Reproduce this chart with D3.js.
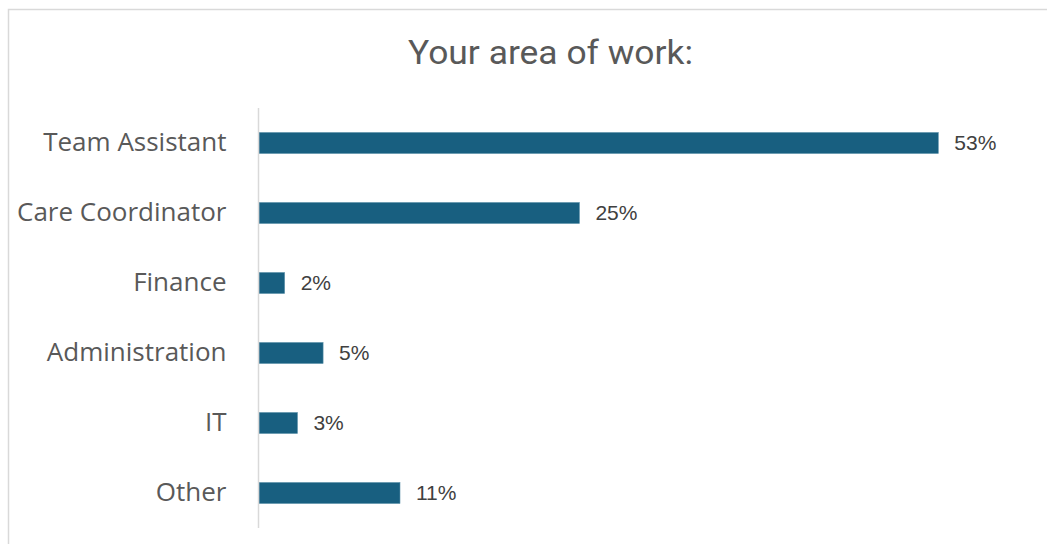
<!DOCTYPE html>
<html>
<head>
<meta charset="utf-8">
<script src="https://cdn.jsdelivr.net/npm/d3@7/dist/d3.min.js"></script>
<style>
  html, body { margin: 0; padding: 0; background: #fff; }
  svg { display: block; }
</style>
</head>
<body>
<svg id="chart" width="1047" height="544"></svg>
<script>
// Survey responses: area of work (percent of respondents)
const categories = ["Team Assistant", "Care Coordinator", "Finance", "Administration", "IT", "Other"];
const percents = [53, 25, 2, 5, 3, 11];
const chartTitle = "Your area of work:";

const svg = d3.select("#chart");
const W = 1047, H = 544;

// Chart frame
svg.append("rect")
  .attr("x", 8.5).attr("y", 9.5)
  .attr("width", W + 10).attr("height", H + 10)
  .attr("fill", "#fff")
  .attr("stroke", "#d9d9d9").attr("stroke-width", 1.5);

svg.append("text")
  .attr("x", 550.5).attr("y", 64)
  .attr("text-anchor", "middle")
  .attr("font-family", "Roboto, sans-serif")
  .attr("font-size", 34)
  .attr("textLength", 285)
  .attr("lengthAdjust", "spacingAndGlyphs")
  .attr("fill", "#595959")
  .text(chartTitle);

const x = d3.scaleLinear().domain([0, 60]).range([259, 1028]);
const y = d3.scaleBand().domain(categories).range([108, 528]).paddingInner(0.7).paddingOuter(0.35);

// Bars
svg.append("g").selectAll("rect")
  .data(categories)
  .join("rect")
  .attr("x", x(0))
  .attr("y", d => y(d))
  .attr("width", (d, i) => x(percents[i]) - x(0))
  .attr("height", y.bandwidth())
  .attr("fill", "#185f80")
  .attr("stroke", "#5a8fa8").attr("stroke-width", 0.6);

// Category axis
const axis = svg.append("g")
  .attr("transform", `translate(${x(0) - 0.5},0)`)
  .call(d3.axisLeft(y).tickSize(0).tickPadding(32));
axis.select(".domain").attr("stroke", "#d9d9d9").attr("stroke-width", 1.5)
  .attr("d", "M0,108V528");
axis.selectAll("text")
  .attr("font-family", "'Open Sans', 'Liberation Sans', sans-serif")
  .attr("font-size", 26)
  .attr("fill", "#595959");

// Value labels
svg.append("g").selectAll("text")
  .data(categories)
  .join("text")
  .attr("x", (d, i) => x(percents[i]) + 16)
  .attr("y", d => y(d) + y.bandwidth() / 2)
  .attr("dy", "0.35em")
  .attr("font-family", "'Liberation Sans', Arial, sans-serif")
  .attr("font-size", 21)
  .attr("fill", "#404040")
  .text((d, i) => percents[i] + "%");
</script>
</body>
</html>
